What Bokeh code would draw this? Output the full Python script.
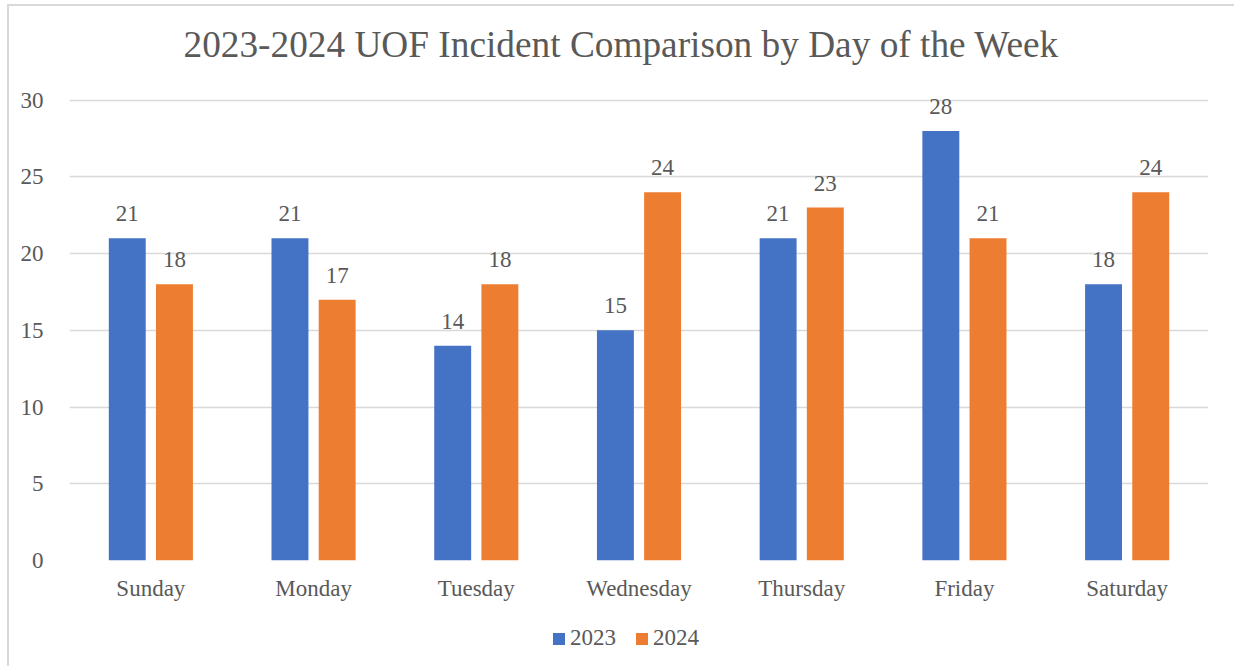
from bokeh.plotting import figure
from bokeh.layouts import column
from bokeh.models import ColumnDataSource, FixedTicker, Legend, LegendItem, LabelSet, Range1d
from bokeh.transform import dodge
from bokeh.embed import file_html
from bokeh.resources import INLINE

days = ["Sunday", "Monday", "Tuesday", "Wednesday", "Thursday", "Friday", "Saturday"]
series_2023 = [21, 21, 14, 15, 21, 28, 18]
series_2024 = [18, 17, 18, 24, 23, 21, 24]
y_ticks = [0, 5, 10, 15, 20, 25, 30]
series_names = ["2023", "2024"]
title_text = "2023-2024 UOF Incident Comparison by Day of the Week"

FONT = "Liberation Serif"
TXT = "#595959"
BLUE = "#4472C4"
ORANGE = "#ED7D31"

src = ColumnDataSource(dict(day=days, y2023=series_2023, y2024=series_2024,
                            l2023=[str(v) for v in series_2023],
                            l2024=[str(v) for v in series_2024]))

p = figure(x_range=days, y_range=Range1d(0, 32), width=1225, height=600,
           output_backend="svg", toolbar_location=None,
           min_border_left=60, min_border_right=26, min_border_top=63, min_border_bottom=46)

p.title.text = title_text
p.title.text_font = FONT
p.title.text_font_size = "37.3px"
p.title.text_font_style = "normal"
p.title.text_color = TXT
p.title.align = "left"
p.title.offset = 114
p.title.standoff = 10

r1 = p.vbar(x=dodge("day", -0.145, range=p.x_range), top="y2023", width=0.227,
            source=src, fill_color=BLUE, line_color=None)
r2 = p.vbar(x=dodge("day", 0.145, range=p.x_range), top="y2024", width=0.227,
            source=src, fill_color=ORANGE, line_color=None)

for col, lab, off in (("y2023", "l2023", -0.145), ("y2024", "l2024", 0.145)):
    ls = LabelSet(x=dodge("day", off, range=p.x_range), y=col, text=lab, source=src,
                  text_align="center", text_baseline="alphabetic", y_offset=17,
                  text_font=FONT, text_font_size="23px", text_color=TXT)
    p.add_layout(ls)

p.outline_line_color = None
p.xgrid.grid_line_color = None
p.ygrid.grid_line_color = "#d9d9d9"
p.ygrid.grid_line_width = 1.5
p.yaxis.ticker = FixedTicker(ticks=y_ticks)

for ax in (p.xaxis, p.yaxis):
    ax.axis_line_color = None
    ax.major_tick_line_color = None
    ax.minor_tick_line_color = None
    ax.major_label_text_font = FONT
    ax.major_label_text_font_size = "23px"
    ax.major_label_text_color = TXT
p.yaxis.major_label_standoff = 20
p.xaxis.major_label_standoff = 9

# legend strip below the chart (swatch renderers lie outside its visible range)
lg = figure(width=1225, height=60, x_range=Range1d(0, 1), y_range=Range1d(0, 1),
            output_backend="svg", toolbar_location=None,
            x_axis_type=None, y_axis_type=None,
            min_border_left=0, min_border_right=0, min_border_top=0, min_border_bottom=0)
lg.outline_line_color = None
lg.xgrid.visible = False
lg.ygrid.visible = False
d1 = lg.quad(left=[5], right=[6], top=[6], bottom=[5], fill_color=BLUE, line_color=None)
d2 = lg.quad(left=[5], right=[6], top=[6], bottom=[5], fill_color=ORANGE, line_color=None)

legend = Legend(items=[LegendItem(label=series_names[0], renderers=[d1]),
                       LegendItem(label=series_names[1], renderers=[d2])],
                orientation="horizontal", location=(482, 15),
                label_text_font=FONT, label_text_font_size="23px", label_text_color=TXT,
                glyph_width=15, glyph_height=15, label_standoff=4, spacing=18,
                border_line_color=None, background_fill_alpha=0, margin=0, padding=4)
lg.add_layout(legend, "center")

layout = column(p, lg, spacing=0)
layout.styles = {"margin-left": "7px", "margin-top": "4px",
                 "border-left": "2px solid #d9d9d9", "border-top": "2px solid #d9d9d9"}

open("out.html", "w").write(file_html(layout, INLINE))
